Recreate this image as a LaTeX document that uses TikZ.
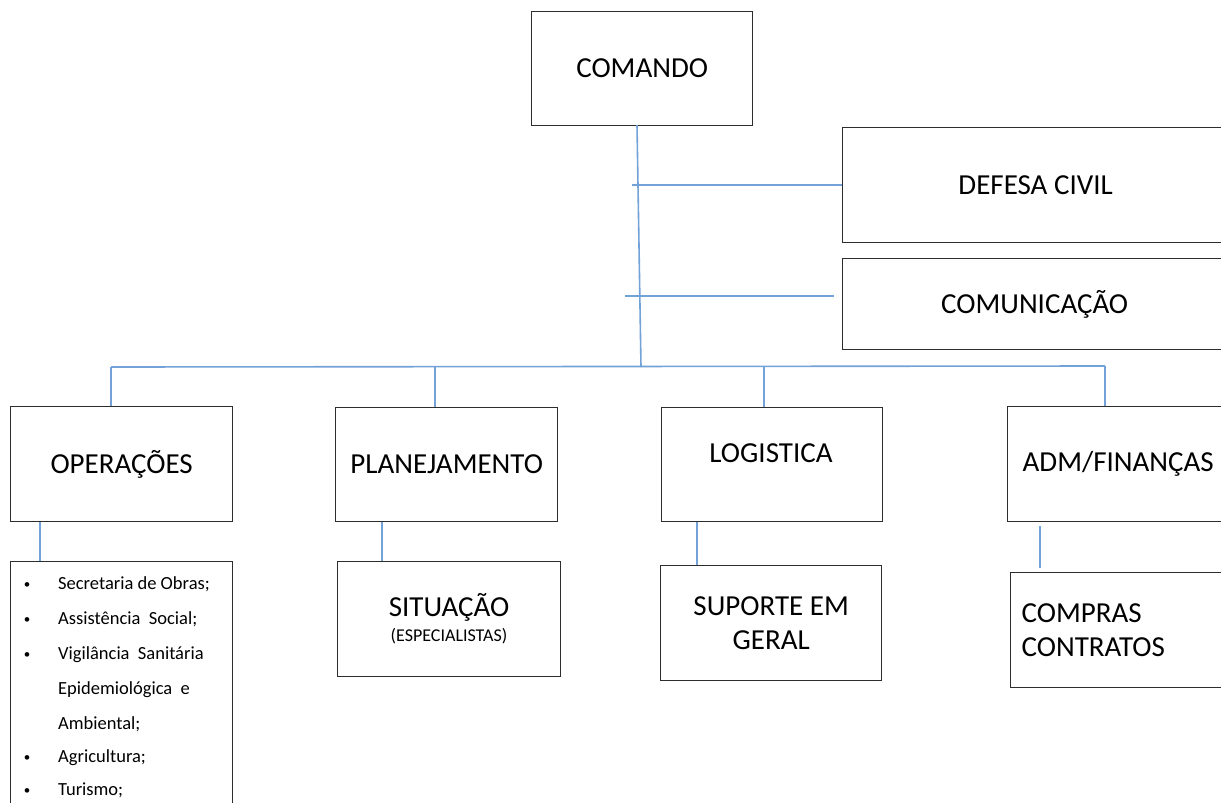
\documentclass[tikz,border=0pt]{standalone}
\usepackage{fontspec}
\setmainfont{Carlito}
\newcommand\mainf{\fontsize{29}{34}\selectfont}
\newcommand\listf{\fontsize{18.5}{22}\selectfont}
\newcommand\smallf{\fontsize{18}{22}\selectfont}
\newcommand\bulf{\fontsize{13}{16}\selectfont}
\definecolor{linkblue}{RGB}{115,162,216}
\definecolor{boxgray}{RGB}{45,45,45}
\begin{document}
\begin{tikzpicture}[x=1pt,y=-1pt,
  box/.style={draw=boxgray, line width=1.3pt, inner sep=0pt, align=center, font=\mainf, anchor=north west},
  lbl/.style={inner sep=0pt, font=\mainf},
  conn/.style={draw=linkblue, line width=1.6pt},
  itm/.style={anchor=base west, inner sep=0pt, font=\listf},
  bul/.style={anchor=base, inner sep=0pt, font=\bulf}]
\useasboundingbox (0,0) rectangle (1221,803);
\clip (0,0) rectangle (1221,803);
\fill[white] (0,0) rectangle (1221,803);

% boxes
\node[box, minimum width=221, minimum height=114] (comando) at (531,11) {COMANDO};
\node[box, minimum width=386, minimum height=115] (defesa) at (842,127) {DEFESA CIVIL};
\node[box, minimum width=384, minimum height=91] (comunic) at (842,258) {COMUNICAÇÃO};
\node[box, minimum width=222, minimum height=115] (opera) at (10,406) {OPERAÇÕES};
\node[box, minimum width=222, minimum height=114] (planej) at (335,407) {PLANEJAMENTO};
\node[box, minimum width=221, minimum height=114] (logist) at (661,407) {};
\node[lbl] (logistT) at (771,453) {LOGISTICA};
\node[box, minimum width=221, minimum height=115] (adm) at (1007,406) {ADM/FINANÇAS};
\node[box, minimum width=222, minimum height=270] (lista) at (10,561) {};
\node[box, minimum width=223, minimum height=115] (situ) at (337,561) {};
\node[lbl] (situT) at (449,607) {SITUAÇÃO};
\node[lbl, font=\smallf] (situS) at (449,636) {(ESPECIALISTAS)};
\node[box, minimum width=221, minimum height=115] (suporte) at (660,565) {SUPORTE EM\\GERAL};
\node[box, minimum height=115, text width=200, inner xsep=11pt, align=left] (compras) at (1010,572) {COMPRAS\\CONTRATOS};

% list
\foreach \yy/\nm in {588/b1,623/b2,658/b3,761/b6,794/b7}
  \node[bul] (\nm) at (27,\yy) {\textbullet};
\node[itm] (i1) at (58,589) {Secretaria de Obras;};
\node[itm] (i2) at (58,624) {Assistência\ \ Social;};
\node[itm] (i3) at (58,659) {Vigilância\ \ Sanitária};
\node[itm] (i4) at (58,694) {Epidemiológica\ \ e};
\node[itm] (i5) at (58,729) {Ambiental;};
\node[itm] (i6) at (58,762) {Agricultura;};
\node[itm] (i7) at (58,795) {Turismo;};

% connectors
\coordinate (cTop) at (637,125);
\coordinate (cBot) at (641,367);
\coordinate (busL) at (111,367);
\coordinate (busR) at (1105,366);
\coordinate (dL1) at (632,185);
\coordinate (dL2) at (625,296);
\coordinate (dR2) at (834,296);
\coordinate (d2) at (435,366);
\coordinate (d3) at (764,366);
\coordinate (s1) at (40,0);
\coordinate (s2) at (382,0);
\coordinate (s3) at (697,0);
\coordinate (a1) at (1040,526);
\coordinate (a2) at (1040,568);

\draw[conn] (cTop) -- (cBot);
\draw[conn] (dL1) -- (dL1 -| defesa.west);
\draw[conn] (dL2) -- (dR2);
\draw[conn] (busL) -- (busR);
\draw[conn] (busL) -- (busL |- opera.north);
\draw[conn] (d2) -- (d2 |- planej.north);
\draw[conn] (d3) -- (d3 |- logist.north);
\draw[conn] (busR) -- (busR |- adm.north);
\draw[conn] (s1 |- opera.south) -- (s1 |- lista.north);
\draw[conn] (s2 |- planej.south) -- (s2 |- situ.north);
\draw[conn] (s3 |- logist.south) -- (s3 |- suporte.north);
\draw[conn] (a1) -- (a2);
\end{tikzpicture}
\end{document}
